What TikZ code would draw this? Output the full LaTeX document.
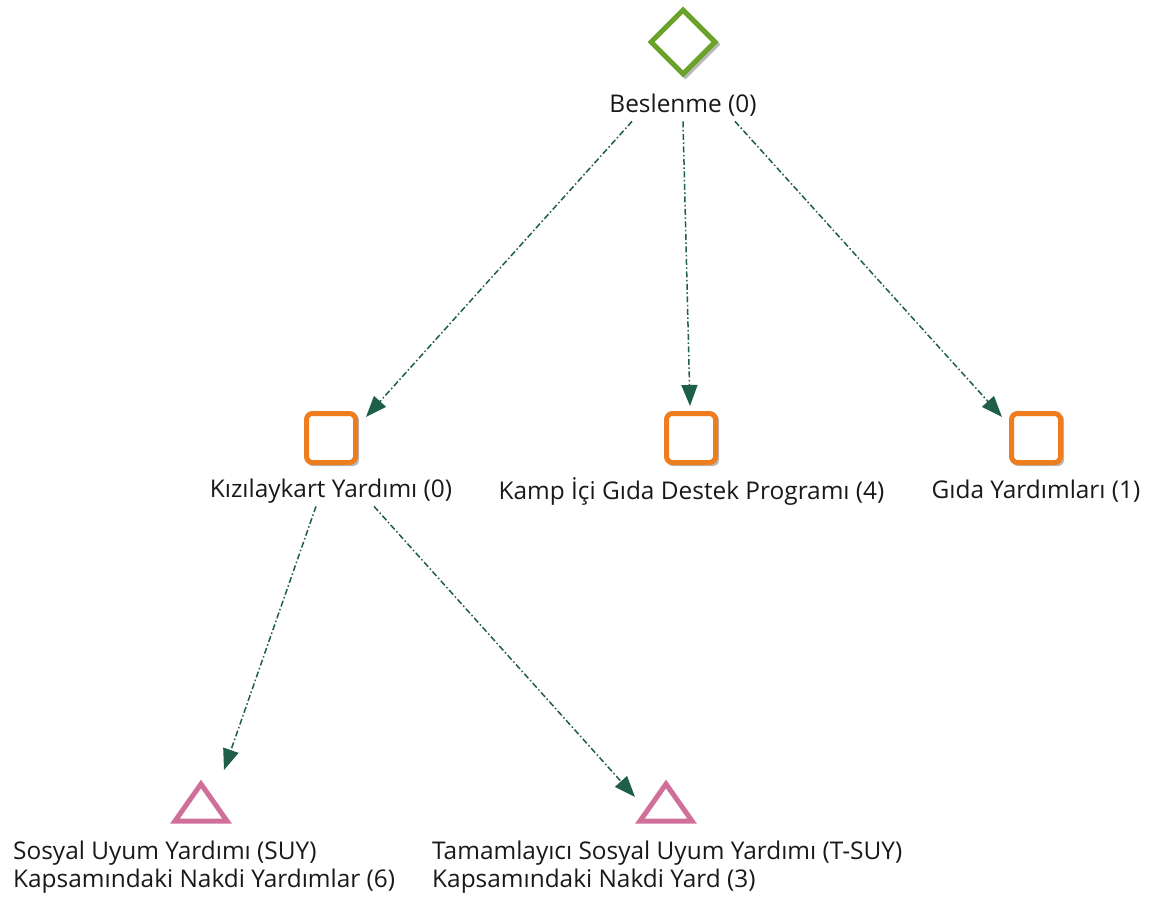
\documentclass[tikz,border=0pt]{standalone}
\usepackage{fontspec}
\setmainfont{Open Sans}
\usetikzlibrary{shapes.geometric,arrows.meta,calc}
\definecolor{dgreen}{HTML}{6BA32A}
\definecolor{orng}{HTML}{EE7D1E}
\definecolor{pnk}{HTML}{CF6F9A}
\definecolor{arr}{HTML}{1F5E4B}
\definecolor{shd}{HTML}{B8B8B8}
\begin{document}
\begin{tikzpicture}[x=1pt,y=-1pt,
  lbl/.style={font=\fontsize{24.4}{28}\selectfont, text=black!90, inner sep=0pt, anchor=center},
  lbl2/.style={lbl, align=left, anchor=north west},
  sq/.style={draw=orng, line width=5pt, rounded corners=6pt, minimum size=49pt, inner sep=0pt, fill=white},
  sqs/.style={fill=shd, rounded corners=6pt, minimum size=52pt, inner sep=0pt},
  dia/.style={diamond, draw=dgreen, line width=5pt, minimum width=66pt, minimum height=66pt, inner sep=0pt, fill=white},
  conn/.style={draw=arr, line width=1.5pt, dash pattern=on 6pt off 2.5pt on 1.5pt off 2.5pt, -{Triangle[length=21pt,width=16pt]}},
]
\useasboundingbox (0,0) rectangle (1152,902);
\fill[white] (0,0) rectangle (1152,902);

% root
\node[diamond, fill=shd, minimum width=70pt, minimum height=70pt, inner sep=0pt] at (685.5,44.5) {};
\node[dia] (root) at (683,42) {};
\node[lbl] (rootl) at (683,105) {Beslenme (0)};

% middle squares
\node[sqs] at (333,440) {};
\node[sq] (kiz) at (331,438) {};
\node[lbl] (kizl) at (331,491) {Kızılaykart Yardımı (0)};

\node[sqs] at (693,440) {};
\node[sq] (kamp) at (691,438) {};
\node[lbl] (kampl) at (691.5,491) {Kamp İçi Gıda Destek Programı (4)};

\node[sqs] at (1038,440) {};
\node[sq] (gida) at (1036,438) {};
\node[lbl] (gidal) at (1036,491) {Gıda Yardımları (1)};

% triangles
\coordinate (suy) at (201,805);
\coordinate (tsuy) at (666,805);
\foreach \c in {suy,tsuy}{
  \draw[pnk, line width=5pt, line join=miter, miter limit=10]
    ($(\c)+(-26,16)$) -- ($(\c)+(0,-21)$) -- ($(\c)+(26,16)$) -- cycle;
}
\node[lbl2] (suyl) at (13,841) {Sosyal Uyum Yardımı (SUY)\\Kapsamındaki Nakdi Yardımlar (6)};
\node[lbl2] (tsuyl) at (432,841) {Tamamlayıcı Sosyal Uyum Yardımı (T-SUY)\\Kapsamındaki Nakdi Yard (3)};

% connectors
\draw[conn] ($(rootl.south)+(-51,5)$) -- ($(kiz.north east)+(8,6)$);
\draw[conn] ($(rootl.south)+(0,5)$) -- ($(kamp.north)+(-1,-5)$);
\draw[conn] ($(rootl.south)+(52,5)$) -- ($(gida.north west)+(-7,6)$);
\draw[conn] ($(kizl.south)+(-15,3)$) -- ($(suy)+(23,-35)$);
\draw[conn] ($(kizl.south)+(43,3)$) -- ($(tsuy)+(-31,-8)$);
\end{tikzpicture}
\end{document}
